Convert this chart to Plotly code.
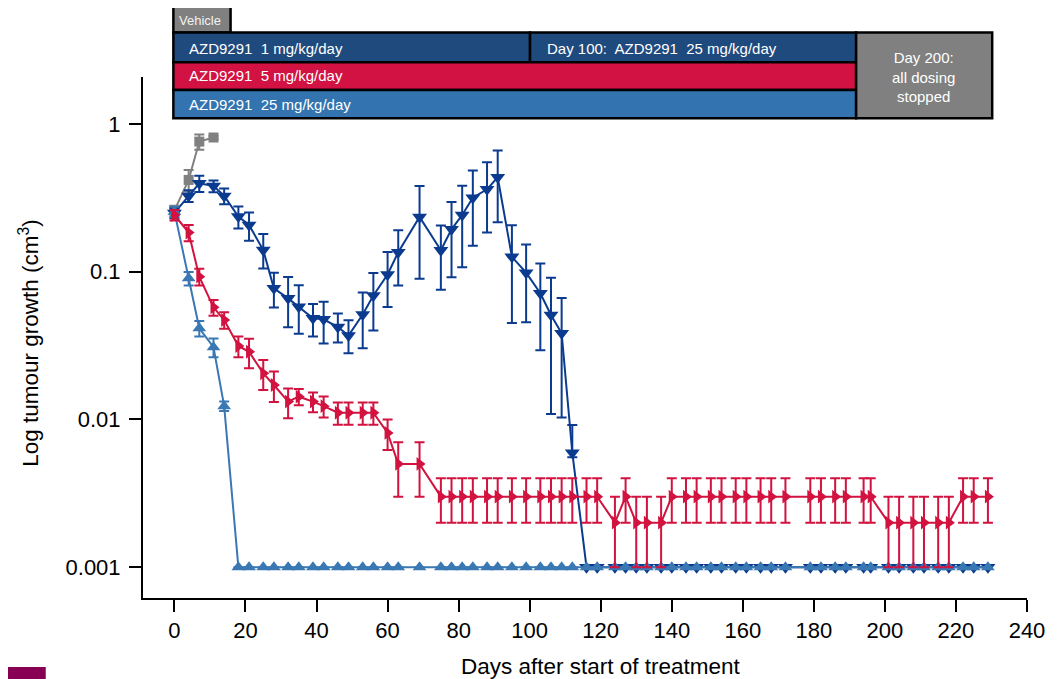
import plotly.graph_objects as go

# ---------------- data ----------------
vehicle_days = [0, 4, 7, 11]
vehicle_vals = [0.26, 0.418, 0.76, 0.81]
vehicle_err = [0.02, 0.07, 0.09, 0.02]

dose1_days = [0, 4, 7, 11, 14, 18, 21, 25, 28, 32, 35, 39, 42, 46, 49, 53, 56, 60, 63, 69,
              75, 78, 81, 84, 88, 91, 95, 99, 103, 106, 109, 112,
              116, 119, 124, 127, 130, 133, 137, 140, 144, 147, 151, 154, 158, 161, 165, 168,
              172, 179, 182, 186, 189, 194, 196, 201, 204, 208, 211, 215, 218, 222, 225, 229]
dose1_vals = [0.25, 0.326, 0.397, 0.38, 0.326, 0.236, 0.207, 0.14, 0.0772, 0.066, 0.058, 0.0484,
              0.0476, 0.0422, 0.037, 0.0513, 0.069, 0.0957, 0.1355, 0.2346,
              0.1396, 0.1937, 0.242, 0.317, 0.361, 0.436, 0.126, 0.0985, 0.0714, 0.0509, 0.0383, 0.00595,
              0.001, 0.001, 0.001, 0.001, 0.001, 0.001, 0.001, 0.001, 0.001, 0.001, 0.001, 0.001,
              0.001, 0.001, 0.001, 0.001, 0.001, 0.001, 0.001, 0.001, 0.001, 0.001, 0.001, 0.001,
              0.001, 0.001, 0.001, 0.001, 0.001, 0.001, 0.001, 0.001]
dose1_err_hi = [0.02, 0.03, 0.05, 0.035, 0.04, 0.04, 0.045, 0.04, 0.021, 0.026, 0.023, 0.012,
                0.015, 0.01, 0.01, 0.021, 0.029, 0.04, 0.055, 0.145,
                0.066, 0.103, 0.14, 0.168, 0.19, 0.225, 0.08, 0.054, 0.042, 0.04, 0.028, 0.0032,
                0, 0, 0, 0, 0, 0, 0, 0, 0, 0, 0, 0, 0, 0, 0, 0,
                0, 0, 0, 0, 0, 0, 0, 0, 0, 0, 0, 0, 0, 0, 0, 0]
dose1_err_lo = [0.02, 0.03, 0.05, 0.035, 0.04, 0.04, 0.045, 0.035, 0.02, 0.024, 0.02, 0.012,
                0.015, 0.009, 0.009, 0.021, 0.029, 0.038, 0.055, 0.145,
                0.064, 0.102, 0.135, 0.167, 0.177, 0.22, 0.081, 0.053, 0.042, 0.04, 0.028, 0.0004,
                0, 0, 0, 0, 0, 0, 0, 0, 0, 0, 0, 0, 0, 0, 0, 0,
                0, 0, 0, 0, 0, 0, 0, 0, 0, 0, 0, 0, 0, 0, 0, 0]

dose5_days = dose1_days
dose5_vals = [0.242, 0.184, 0.0925, 0.0574, 0.0471, 0.0314, 0.0287, 0.0205, 0.0171, 0.0132,
              0.01425, 0.0132, 0.0123, 0.0111, 0.0111, 0.0111, 0.0111, 0.0081, 0.005, 0.005,
              0.003, 0.003, 0.003, 0.003, 0.003, 0.003, 0.003, 0.003, 0.003, 0.003, 0.003, 0.003,
              0.003, 0.003, 0.002, 0.003, 0.002, 0.002, 0.002, 0.003, 0.003, 0.003, 0.003, 0.003,
              0.003, 0.003, 0.003, 0.003, 0.003, 0.003, 0.003, 0.003, 0.003, 0.003, 0.003,
              0.002, 0.002, 0.002, 0.002, 0.002, 0.002, 0.003, 0.003, 0.003]
dose5_err = [0.02, 0.023, 0.012, 0.007, 0.006, 0.005, 0.0065, 0.0047, 0.004, 0.003,
             0.0018, 0.002, 0.002, 0.0019, 0.0019, 0.0019, 0.0019, 0.0019, 0.002, 0.002,
             0.001, 0.001, 0.001, 0.001, 0.001, 0.001, 0.001, 0.001, 0.001, 0.001, 0.001, 0.001,
             0.001, 0.001, 0.001, 0.001, 0.001, 0.001, 0.001, 0.001, 0.001, 0.001, 0.001, 0.001,
             0.001, 0.001, 0.001, 0.001, 0.001, 0.001, 0.001, 0.001, 0.001, 0.001, 0.001,
             0.001, 0.001, 0.001, 0.001, 0.001, 0.001, 0.001, 0.001, 0.001]

dose25_days = dose1_days
dose25_vals = [0.255, 0.0902, 0.0414, 0.0308, 0.0123, 0.001, 0.001, 0.001, 0.001, 0.001,
               0.001, 0.001, 0.001, 0.001, 0.001, 0.001, 0.001, 0.001, 0.001, 0.001,
               0.001, 0.001, 0.001, 0.001, 0.001, 0.001, 0.001, 0.001, 0.001, 0.001, 0.001, 0.001,
               0.001, 0.001, 0.001, 0.001, 0.001, 0.001, 0.001, 0.001, 0.001, 0.001, 0.001, 0.001,
               0.001, 0.001, 0.001, 0.001, 0.001, 0.001, 0.001, 0.001, 0.001, 0.001, 0.001,
               0.001, 0.001, 0.001, 0.001, 0.001, 0.001, 0.001, 0.001, 0.001]
dose25_err = [0.02, 0.0095, 0.005, 0.0045, 0.0009, 0, 0, 0, 0, 0,
              0, 0, 0, 0, 0, 0, 0, 0, 0, 0,
              0, 0, 0, 0, 0, 0, 0, 0, 0, 0, 0, 0,
              0, 0, 0, 0, 0, 0, 0, 0, 0, 0, 0, 0,
              0, 0, 0, 0, 0, 0, 0, 0, 0, 0, 0,
              0, 0, 0, 0, 0, 0, 0, 0, 0]

x_ticks = [0, 20, 40, 60, 80, 100, 120, 140, 160, 180, 200, 220, 240]
y_ticks = [0.001, 0.01, 0.1, 1]
y_ticklabels = ["0.001", "0.01", "0.1", "1"]

# ---------------- styles ----------------
FONT = "Arial, 'Liberation Sans', sans-serif"
C_VEH = "#808080"
C_D1 = "#0b3b8f"
C_D5 = "#d2123f"
C_D25 = "#3a78b4"
BAR_D1 = "#1f4a7e"
BAR_D5 = "#d21242"
BAR_D25 = "#3374b0"
BAR_GREY = "#808080"

fig = go.Figure()


def add_series(days, vals, err_hi, err_lo, color, symbol, size, name):
    fig.add_trace(go.Scatter(
        x=days, y=vals, mode="lines+markers", name=name,
        line=dict(color=color, width=2),
        marker=dict(symbol=symbol, size=size, color=color),
        error_y=dict(type="data", symmetric=False, array=err_hi, arrayminus=err_lo,
                     color=color, thickness=2, width=5),
        showlegend=False, cliponaxis=False,
    ))


add_series(vehicle_days, vehicle_vals, vehicle_err, vehicle_err, C_VEH, "square", 10, "Vehicle")
add_series(dose1_days, dose1_vals, dose1_err_hi, dose1_err_lo, C_D1, "triangle-down", 13, "1 mg/kg/day")
add_series(dose25_days, dose25_vals, dose25_err, dose25_err, C_D25, "triangle-up", 12, "25 mg/kg/day")
add_series(dose5_days, dose5_vals, dose5_err, dose5_err, C_D5, "triangle-right", 12, "5 mg/kg/day")

# ---------------- banner of dosing regimens ----------------
# page pixel -> paper y (plot area spans 77px..598px of the page)
def py(p):
    return (598 - p) / 521.0


def px(p):
    return (p - 142.7) / 888.0


shapes = []
annotations = []


def box(x0, x1, y0, y1, fill):
    shapes.append(dict(type="rect", xref="x", yref="paper", x0=x0, x1=x1, y0=py(y1), y1=py(y0),
                       fillcolor=fill, line=dict(color="black", width=2.5), layer="above"))


box(-0.3, 15.8, 6, 32.5, BAR_GREY)
box(-0.3, 100.1, 32.5, 62.3, BAR_D1)
box(100.1, 191.9, 32.5, 62.3, BAR_D1)
box(-0.3, 191.9, 62.3, 90, BAR_D5)
box(-0.3, 191.9, 90, 118.3, BAR_D25)
box(191.9, 230.2, 32.5, 118.3, BAR_GREY)


def label(x, y, text, size=15, anchor="left", color="white"):
    annotations.append(dict(x=x, y=py(y), xref="x", yref="paper", text=text, showarrow=False,
                            xanchor=anchor, yanchor="middle", align="center",
                            font=dict(family=FONT, size=size, color=color)))


label(0.6, 20, "Vehicle", size=13, color="#f2f2f2")
label(3.6, 48, "AZD9291\u00a0 1 mg/kg/day")
label(104.2, 48, "Day 100:\u00a0 AZD9291\u00a0 25 mg/kg/day")
label(3.6, 76, "AZD9291\u00a0 5 mg/kg/day")
label(3.6, 104, "AZD9291\u00a0 25 mg/kg/day")
label(211.0, 77, "Day 200:<br>all dosing<br>stopped", anchor="center")

# axis titles
annotations.append(dict(x=px(28), y=py(343), xref="paper", yref="paper",
                        text="Log tumour growth (cm<sup>3</sup>)", showarrow=False, textangle=-90,
                        xanchor="center", yanchor="middle",
                        font=dict(family=FONT, size=22.5, color="black")))
annotations.append(dict(x=px(603), y=py(666), xref="paper", yref="paper",
                        text="Days after start of treatment", showarrow=False,
                        xanchor="center", yanchor="middle",
                        font=dict(family=FONT, size=22.5, color="black")))

# small brand block at bottom-left corner
shapes.append(dict(type="rect", xref="paper", yref="paper",
                   x0=px(0), x1=px(45), y0=py(680), y1=py(667),
                   fillcolor="#880054", line=dict(width=0), layer="above"))

# The page body has an 8px margin, so the figure is drawn 8px in from the top-left;
# the figure size and margins below place the plot area at 143..1031 x 77..598 on the page.
fig.update_layout(
    width=1049, height=671,
    margin=dict(l=134.7, r=26.3, t=69, b=81, pad=0),
    paper_bgcolor="white", plot_bgcolor="white",
    font=dict(family=FONT, size=22, color="black"),
    shapes=shapes, annotations=annotations,
    xaxis=dict(range=[-8.85, 240], tickvals=x_ticks, showline=True, linecolor="black",
               linewidth=2, ticks="outside", ticklen=12, tickwidth=2, tickcolor="black",
               showgrid=False, zeroline=False, tickfont=dict(size=22)),
    yaxis=dict(type="log", range=[-3.209, 0.318], tickvals=y_ticks, ticktext=y_ticklabels,
               showline=True, linecolor="black", linewidth=2, ticks="outside", ticklen=12,
               tickwidth=2, tickcolor="black", showgrid=False, zeroline=False,
               ticklabelstandoff=4, tickfont=dict(size=22)),
)

fig.write_html("out.html")
